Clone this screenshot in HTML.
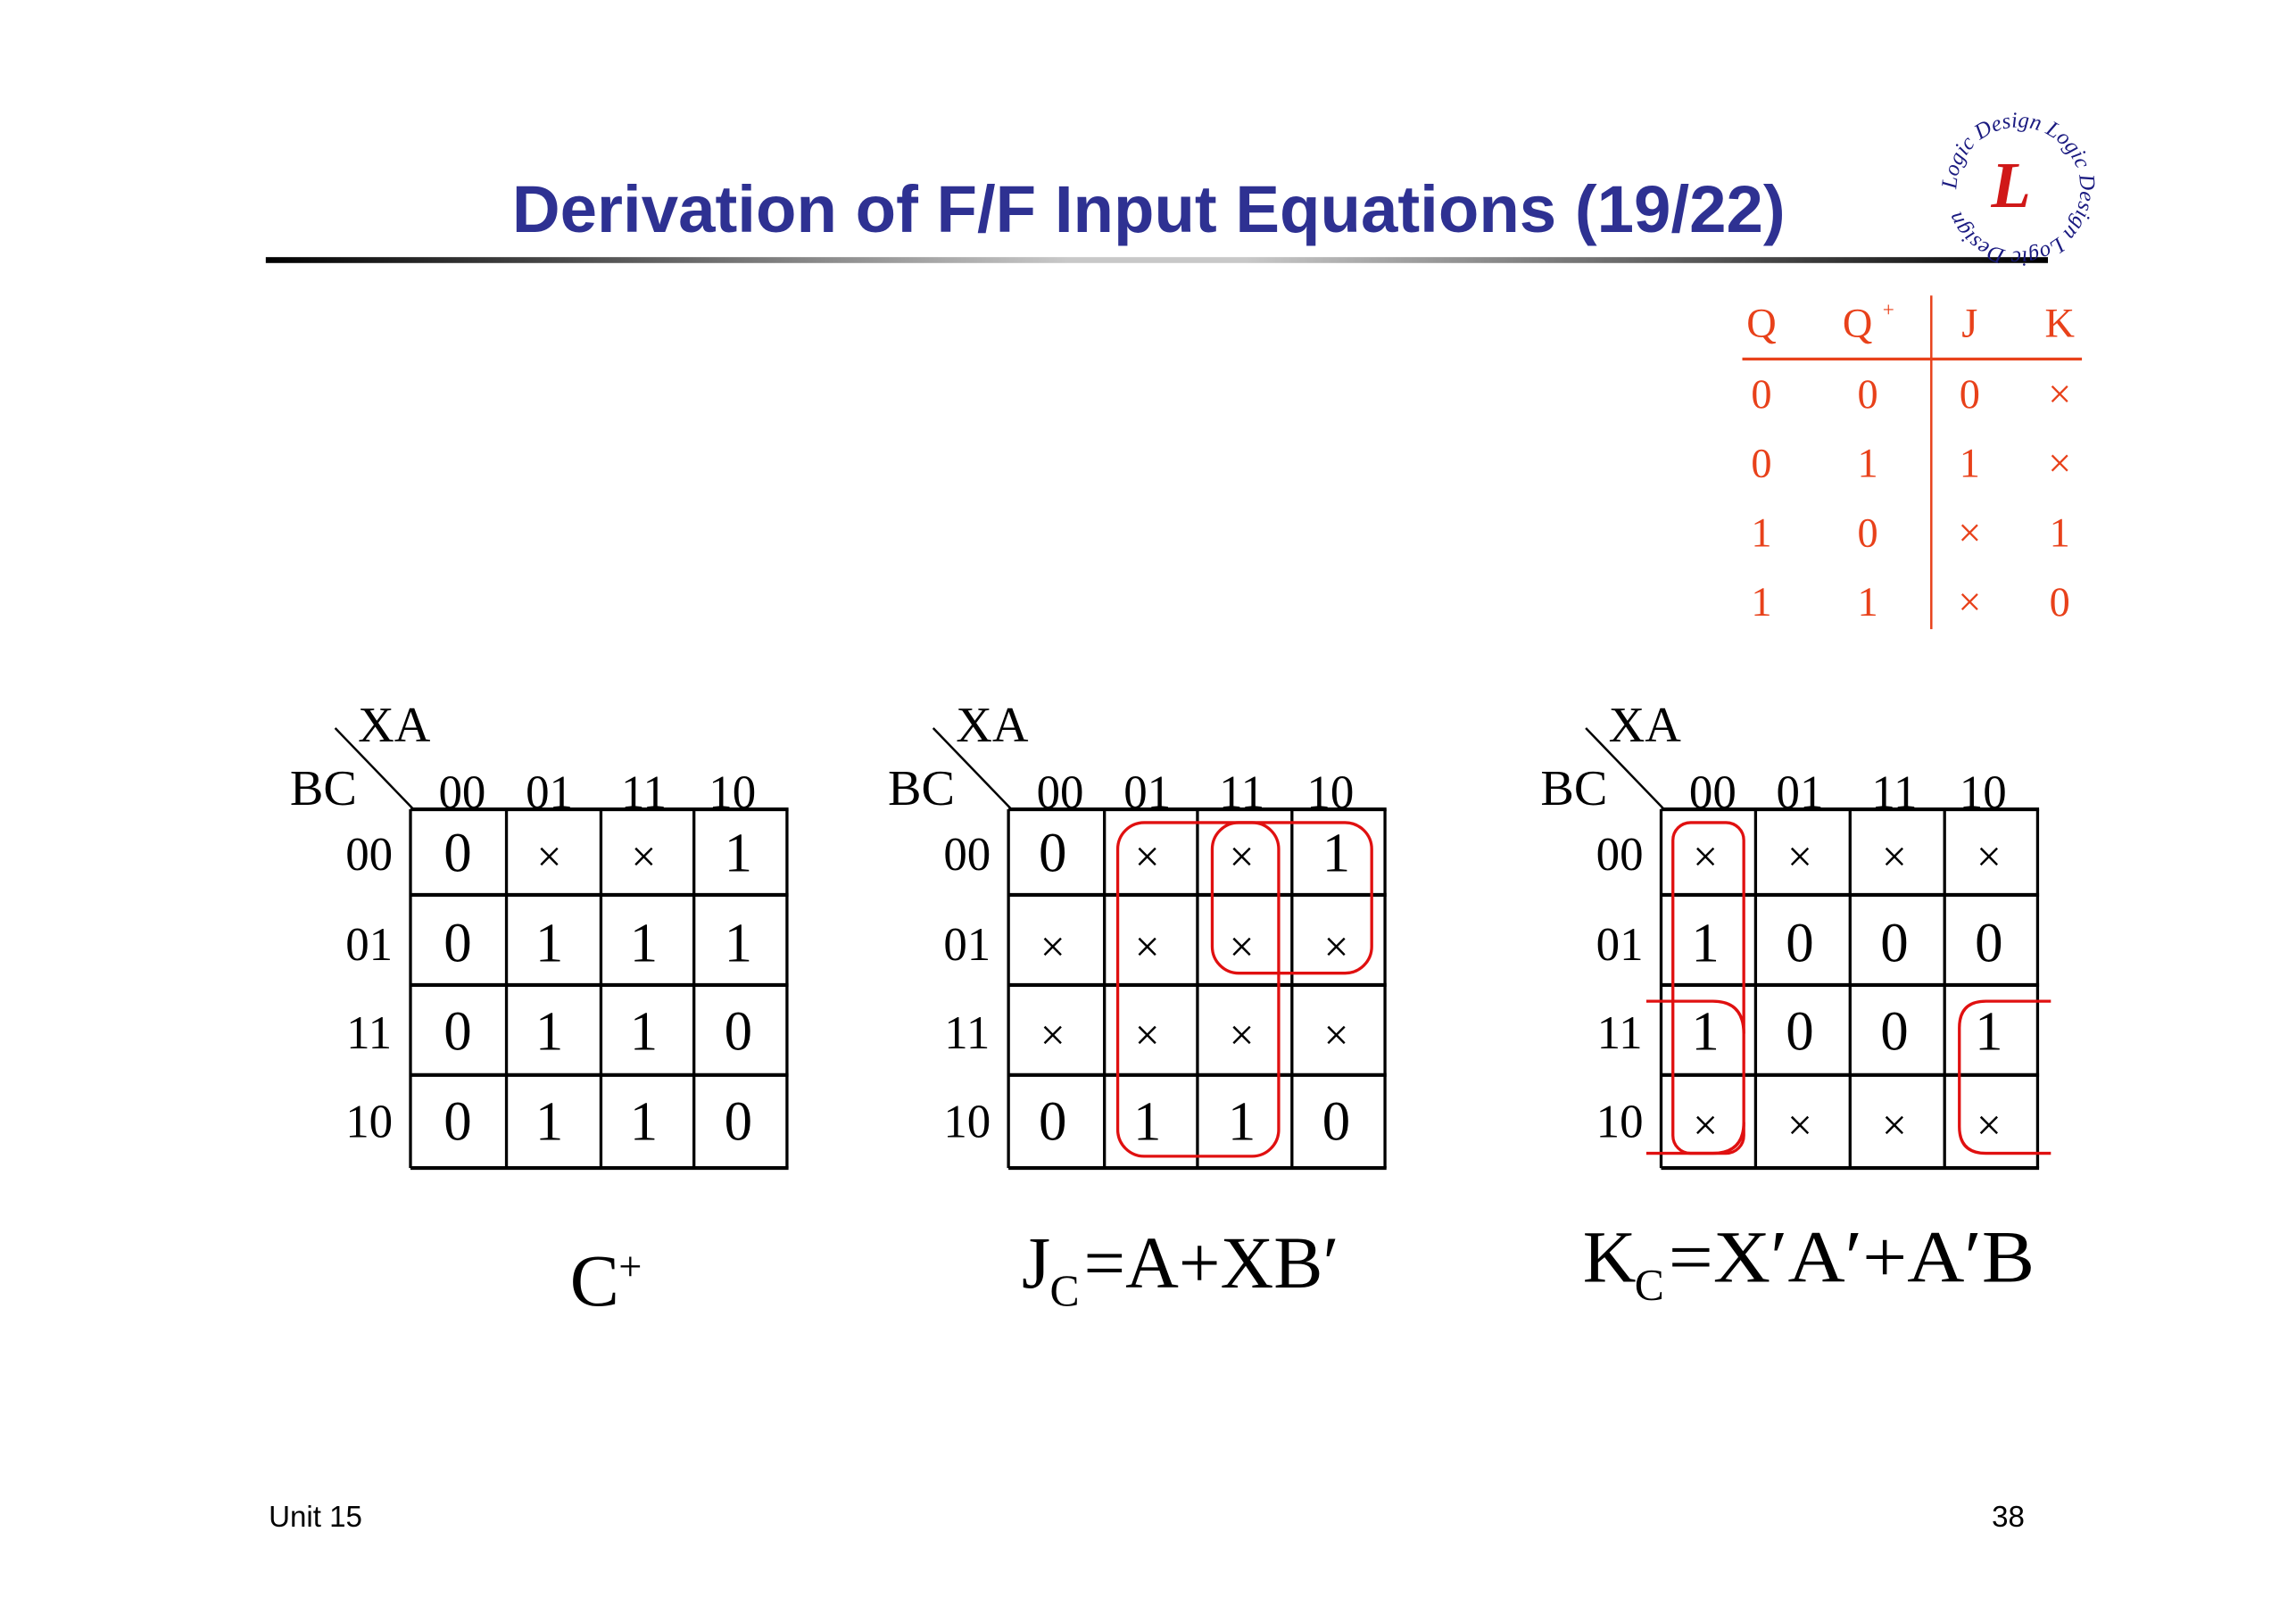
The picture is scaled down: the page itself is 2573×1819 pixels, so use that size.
<!DOCTYPE html>
<html><head><meta charset="utf-8"><style>
html,body{margin:0;padding:0;background:#fff;}
svg{display:block;}
</style></head><body>
<svg width="2573" height="1819" viewBox="0 0 1555 1099" xmlns="http://www.w3.org/2000/svg">
<defs>
<linearGradient id="rule" x1="0" x2="1" y1="0" y2="0">
<stop offset="0" stop-color="#000"/><stop offset="0.45" stop-color="#c8c8c8"/><stop offset="0.55" stop-color="#c8c8c8"/><stop offset="1" stop-color="#000"/>
</linearGradient>
<path id="circ" d="M1367,128 m-42,0 a42,42 0 1,1 84,0 a42,42 0 1,1 -84,0"/>
</defs>
<rect width="1555" height="1099" fill="#fff"/>
<text x="778" y="157" text-anchor="middle" font-family="Liberation Sans, sans-serif" font-weight="bold" font-size="45" fill="#2e3192">Derivation of F/F Input Equations (19/22)</text>
<rect x="180" y="174" width="1207" height="4" fill="url(#rule)"/>
<text font-family="Liberation Serif, serif" font-style="italic" font-size="15" fill="#1a1a80"><textPath href="#circ">Logic Design Logic Design Logic Design</textPath></text>
<text x="1362" y="140" text-anchor="middle" font-family="Liberation Serif, serif" font-style="italic" font-weight="bold" font-size="44" fill="#d01818">L</text>
<g font-family="Liberation Serif, serif" font-size="28" fill="#e8411a" text-anchor="middle">
<text x="1193" y="228">Q</text><text x="1258" y="228">Q</text><text x="1279" y="214" font-size="14">+</text><text x="1334" y="228">J</text><text x="1395" y="228">K</text>
<text x="1193" y="276">0</text><text x="1265" y="276">0</text><text x="1334" y="276">0</text><text x="1395" y="276">×</text>
<text x="1193" y="323">0</text><text x="1265" y="323">1</text><text x="1334" y="323">1</text><text x="1395" y="323">×</text>
<text x="1193" y="370">1</text><text x="1265" y="370">0</text><text x="1334" y="370">×</text><text x="1395" y="370">1</text>
<text x="1193" y="417">1</text><text x="1265" y="417">1</text><text x="1334" y="417">×</text><text x="1395" y="417">0</text>
</g>
<line x1="1180" y1="243" x2="1410" y2="243" stroke="#e8411a" stroke-width="2"/>
<line x1="1308" y1="200" x2="1308" y2="426" stroke="#e8411a" stroke-width="1.5"/>

<g font-family="Liberation Serif, serif" fill="#000" text-anchor="middle">
<g>
<line x1="227" y1="493" x2="280" y2="548" stroke="#000" stroke-width="1.5"/>
<text x="267" y="502" font-size="34">XA</text>
<text x="219" y="545" font-size="34">BC</text>
<g font-size="32"><text x="313" y="547">00</text><text x="372" y="547">01</text><text x="436" y="547">11</text><text x="496" y="547">10</text>
<text x="250" y="589">00</text><text x="250" y="650">01</text><text x="250" y="710">11</text><text x="250" y="770">10</text></g>
<g stroke="#000" stroke-width="2.5" fill="none">
<line x1="278" y1="548" x2="534" y2="548"/><line x1="278" y1="606" x2="534" y2="606"/><line x1="278" y1="667" x2="534" y2="667"/><line x1="278" y1="728" x2="534" y2="728"/><line x1="278" y1="791" x2="534" y2="791"/>
<line x1="278" y1="548" x2="278" y2="791" stroke-width="2"/><line x1="343" y1="548" x2="343" y2="791" stroke-width="2"/><line x1="407" y1="548" x2="407" y2="791" stroke-width="2"/><line x1="470" y1="548" x2="470" y2="791" stroke-width="2"/><line x1="533" y1="548" x2="533" y2="791" stroke-width="2"/>
</g>
<g font-size="38">
<text x="310" y="590">0</text><text x="372" y="590" font-size="30">×</text><text x="436" y="590" font-size="30">×</text><text x="500" y="590">1</text>
<text x="310" y="651">0</text><text x="372" y="651">1</text><text x="436" y="651">1</text><text x="500" y="651">1</text>
<text x="310" y="711">0</text><text x="372" y="711">1</text><text x="436" y="711">1</text><text x="500" y="711">0</text>
<text x="310" y="772">0</text><text x="372" y="772">1</text><text x="436" y="772">1</text><text x="500" y="772">0</text>
</g>
</g>
<g transform="translate(405,0)">
<line x1="227" y1="493" x2="280" y2="548" stroke="#000" stroke-width="1.5"/>
<text x="267" y="502" font-size="34">XA</text>
<text x="219" y="545" font-size="34">BC</text>
<g font-size="32"><text x="313" y="547">00</text><text x="372" y="547">01</text><text x="436" y="547">11</text><text x="496" y="547">10</text>
<text x="250" y="589">00</text><text x="250" y="650">01</text><text x="250" y="710">11</text><text x="250" y="770">10</text></g>
<g stroke="#000" stroke-width="2.5" fill="none">
<line x1="278" y1="548" x2="534" y2="548"/><line x1="278" y1="606" x2="534" y2="606"/><line x1="278" y1="667" x2="534" y2="667"/><line x1="278" y1="728" x2="534" y2="728"/><line x1="278" y1="791" x2="534" y2="791"/>
<line x1="278" y1="548" x2="278" y2="791" stroke-width="2"/><line x1="343" y1="548" x2="343" y2="791" stroke-width="2"/><line x1="406" y1="548" x2="406" y2="791" stroke-width="2"/><line x1="470" y1="548" x2="470" y2="791" stroke-width="2"/><line x1="533" y1="548" x2="533" y2="791" stroke-width="2"/>
</g>
<g font-size="38">
<text x="308" y="590">0</text><text x="372" y="590" font-size="30">×</text><text x="436" y="590" font-size="30">×</text><text x="500" y="590">1</text>
<text x="308" y="651" font-size="30">×</text><text x="372" y="651" font-size="30">×</text><text x="436" y="651" font-size="30">×</text><text x="500" y="651" font-size="30">×</text>
<text x="308" y="711" font-size="30">×</text><text x="372" y="711" font-size="30">×</text><text x="436" y="711" font-size="30">×</text><text x="500" y="711" font-size="30">×</text>
<text x="308" y="772">0</text><text x="372" y="772">1</text><text x="436" y="772">1</text><text x="500" y="772">0</text>
</g>
</g>
<g transform="translate(847,0)">
<line x1="227" y1="493" x2="280" y2="548" stroke="#000" stroke-width="1.5"/>
<text x="267" y="502" font-size="34">XA</text>
<text x="219" y="545" font-size="34">BC</text>
<g font-size="32"><text x="313" y="547">00</text><text x="372" y="547">01</text><text x="436" y="547">11</text><text x="496" y="547">10</text>
<text x="250" y="589">00</text><text x="250" y="650">01</text><text x="250" y="710">11</text><text x="250" y="770">10</text></g>
<g stroke="#000" stroke-width="2.5" fill="none">
<line x1="278" y1="548" x2="534" y2="548"/><line x1="278" y1="606" x2="534" y2="606"/><line x1="278" y1="667" x2="534" y2="667"/><line x1="278" y1="728" x2="534" y2="728"/><line x1="278" y1="791" x2="534" y2="791"/>
<line x1="278" y1="548" x2="278" y2="791" stroke-width="2"/><line x1="342" y1="548" x2="342" y2="791" stroke-width="2"/><line x1="406" y1="548" x2="406" y2="791" stroke-width="2"/><line x1="470" y1="548" x2="470" y2="791" stroke-width="2"/><line x1="533" y1="548" x2="533" y2="791" stroke-width="2"/>
</g>
<g font-size="38">
<text x="308" y="590" font-size="30">×</text><text x="372" y="590" font-size="30">×</text><text x="436" y="590" font-size="30">×</text><text x="500" y="590" font-size="30">×</text>
<text x="308" y="651">1</text><text x="372" y="651">0</text><text x="436" y="651">0</text><text x="500" y="651">0</text>
<text x="308" y="711">1</text><text x="372" y="711">0</text><text x="436" y="711">0</text><text x="500" y="711">1</text>
<text x="308" y="772" font-size="30">×</text><text x="372" y="772" font-size="30">×</text><text x="436" y="772" font-size="30">×</text><text x="500" y="772" font-size="30">×</text>
</g>
</g>
</g>
<g stroke="#e01010" stroke-width="2" fill="none">
<rect x="757" y="557" width="109" height="226" rx="18"/>
<rect x="821" y="557" width="108" height="102" rx="18"/>
<rect x="1133" y="557" width="48" height="224" rx="12"/>
<path d="M1115,678 H1160 Q1181,678 1181,700"/>
<path d="M1115,781 H1160 Q1181,781 1181,760"/>
<path d="M1389,678 H1345 Q1327,678 1327,696 V763 Q1327,781 1345,781 H1389"/>
</g>
<g font-family="Liberation Serif, serif" fill="#000" font-size="50">
<text x="386" y="884">C</text><text x="419" y="867" font-size="28">+</text>
<text x="692" y="872">J</text><text x="711" y="884" font-size="30">C</text><text x="734" y="872">=A+XB′</text>
<text x="1072" y="868">K</text><text x="1107" y="880" font-size="30">C</text><text x="1130" y="868" textLength="248" lengthAdjust="spacingAndGlyphs">=X′A′+A′B</text>
</g>
<g font-family="Liberation Sans, sans-serif" font-size="20" fill="#000">
<text x="182" y="1034">Unit 15</text>
<text x="1349" y="1034">38</text>
</g>
</svg>
</body></html>
